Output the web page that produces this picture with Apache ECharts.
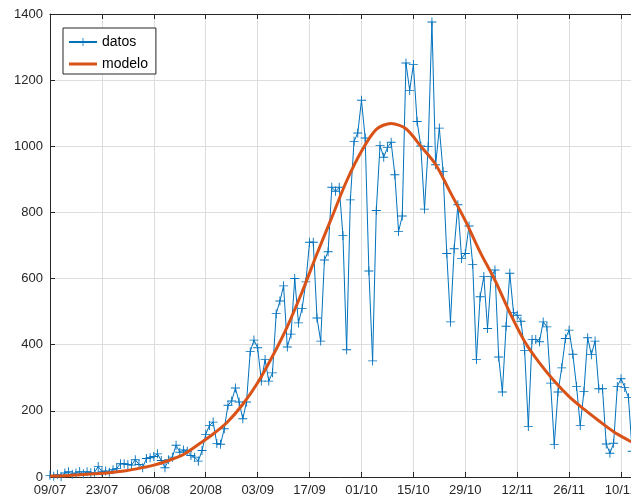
<!DOCTYPE html>
<html>
<head>
<meta charset="utf-8">
<script src="https://cdn.jsdelivr.net/npm/echarts@6/dist/echarts.min.js"></script>
<style>
  html, body { margin: 0; padding: 0; background: #ffffff; }
  #chart { width: 631px; height: 499px; }
</style>
</head>
<body>
<div id="chart"></div>
<script>
// Daily cases, one value per day starting on 09/07
const datos = [
  5, 2, 8, 1, 12, 16, 8, 12, 17, 10,
  16, 13, 14, 32, 16, 18, 14, 22, 26, 40,
  40, 38, 36, 52, 38, 28, 56, 58, 62, 70,
  50, 28, 52, 60, 96, 75, 82, 78, 65, 60,
  48, 80, 129, 156, 166, 101, 99, 146, 217, 230,
  269, 227, 176, 227, 379, 414, 391, 290, 355, 290,
  315, 494, 532, 578, 393, 432, 600, 466, 510, 590,
  710, 710, 481, 411, 656, 681, 876, 864, 876, 730,
  385, 838, 1015, 1040, 1139, 1025, 623, 351, 806, 1002,
  967, 996, 1012, 914, 742, 789, 1252, 1169, 1247, 1075,
  1001, 810, 999, 1376, 944, 1055, 924, 676, 469, 690,
  823, 661, 676, 759, 643, 355, 545, 606, 449, 606,
  626, 363, 257, 456, 616, 497, 489, 471, 383, 153,
  416, 416, 409, 469, 454, 284, 98, 257, 330, 419,
  444, 371, 274, 156, 259, 421, 370, 411, 267, 267,
  100, 72, 102, 274, 297, 271, 240, 78
];

// Fitted model, sampled every 4 days (day offsets from 09/07)
const modeloDias = [
  0, 4, 8, 12, 16, 20, 24, 28, 32, 36,
  40, 44, 48, 52, 56, 60, 64, 68, 72, 76,
  80, 84, 88, 92, 96, 100, 104, 108, 112, 116,
  120, 124, 128, 132, 136, 140, 144, 148, 152, 156, 157
];
const modeloValores = [
  3, 4, 7, 10, 13, 18, 26, 36, 50, 68,
  98, 130, 168, 220, 285, 365, 455, 560, 675, 785,
  895, 985, 1051, 1069, 1053, 1000, 945, 860, 775, 680,
  595, 497, 410, 345, 290, 243, 205, 170, 137, 111, 105
];

// Date tick labels, one every 14 days
const etiquetasX = ['09/07', '23/07', '06/08', '20/08', '03/09', '17/09', '01/10', '15/10', '29/10', '12/11', '26/11', '10/12'];
const ticksY = [0, 200, 400, 600, 800, 1000, 1200, 1400];

const azul = '#0072BD';
const naranja = '#D95319';
const ejes = '#262626';
const rejilla = '#dedede';
const fuente = '"Liberation Sans", Arial, Helvetica, sans-serif';

const plus = 'path://M4.5,0h1v4.5h4.5v1h-4.5v4.5h-1v-4.5h-4.5v-1h4.5z';
const trazo = 'path://M0,0h28v3h-28z';

// The plotting box runs past the right edge of the page
const xMax = 165;
const pxPorDia = 3.708;

const chart = echarts.init(document.getElementById('chart'), null, { renderer: 'canvas' });

const xComun = {
  type: 'value',
  min: 0,
  max: xMax,
  interval: 14,
  axisLine: { show: true, onZero: false, lineStyle: { color: ejes, width: 1 } },
  axisTick: { show: true, inside: true, length: 5, lineStyle: { color: ejes, width: 1 } }
};

chart.setOption({
  animation: false,
  backgroundColor: '#ffffff',
  grid: {
    left: 50,
    top: 14,
    height: 463,
    width: xMax * pxPorDia,
    containLabel: false,
    outerBoundsMode: 'none'
  },
  legend: {
    data: [
      { name: 'datos' },
      { name: 'modelo', icon: trazo }
    ],
    orient: 'vertical',
    left: 63,
    top: 28,
    padding: [7, 8, 3, 5],
    itemGap: 8,
    itemWidth: 28,
    itemHeight: 10,
    symbolKeepAspect: true,
    backgroundColor: '#ffffff',
    borderColor: ejes,
    borderWidth: 1,
    borderRadius: 0,
    textStyle: { fontFamily: fuente, fontSize: 14, color: '#000000' }
  },
  xAxis: [
    Object.assign({}, xComun, {
      position: 'bottom',
      axisLabel: {
        show: true,
        margin: 7,
        fontFamily: fuente,
        fontSize: 13,
        color: ejes,
        formatter: function (v) {
          if (v % 14 !== 0) return '';
          return etiquetasX[v / 14] || '';
        }
      },
      splitLine: { show: true, lineStyle: { color: rejilla, width: 1 } }
    }),
    Object.assign({}, xComun, {
      position: 'top',
      axisLabel: { show: false },
      splitLine: { show: false }
    })
  ],
  yAxis: {
    type: 'value',
    min: ticksY[0],
    max: ticksY[ticksY.length - 1],
    interval: ticksY[1] - ticksY[0],
    axisLine: { show: true, lineStyle: { color: ejes, width: 1 } },
    axisTick: { show: true, inside: true, length: 5, lineStyle: { color: ejes, width: 1 } },
    axisLabel: {
      margin: 7, fontFamily: fuente, fontSize: 13, color: ejes,
      formatter: function (v) { return String(v); }
    },
    splitLine: { show: true, lineStyle: { color: rejilla, width: 1 } }
  },
  series: [
    {
      name: 'datos',
      type: 'line',
      xAxisIndex: 0,
      data: datos.map(function (v, i) { return [i, v]; }),
      symbol: plus,
      symbolSize: 9,
      showAllSymbol: true,
      color: azul,
      lineStyle: { color: azul, width: 1 },
      itemStyle: { color: azul },
      emphasis: { disabled: true },
      z: 2
    },
    {
      name: 'modelo',
      type: 'line',
      xAxisIndex: 0,
      data: modeloDias.map(function (d, i) { return [d, modeloValores[i]]; }),
      smooth: 0.3,
      symbol: 'none',
      color: naranja,
      lineStyle: { color: naranja, width: 3 },
      itemStyle: { color: naranja },
      emphasis: { disabled: true },
      z: 3
    }
  ]
});
</script>
</body>
</html>
